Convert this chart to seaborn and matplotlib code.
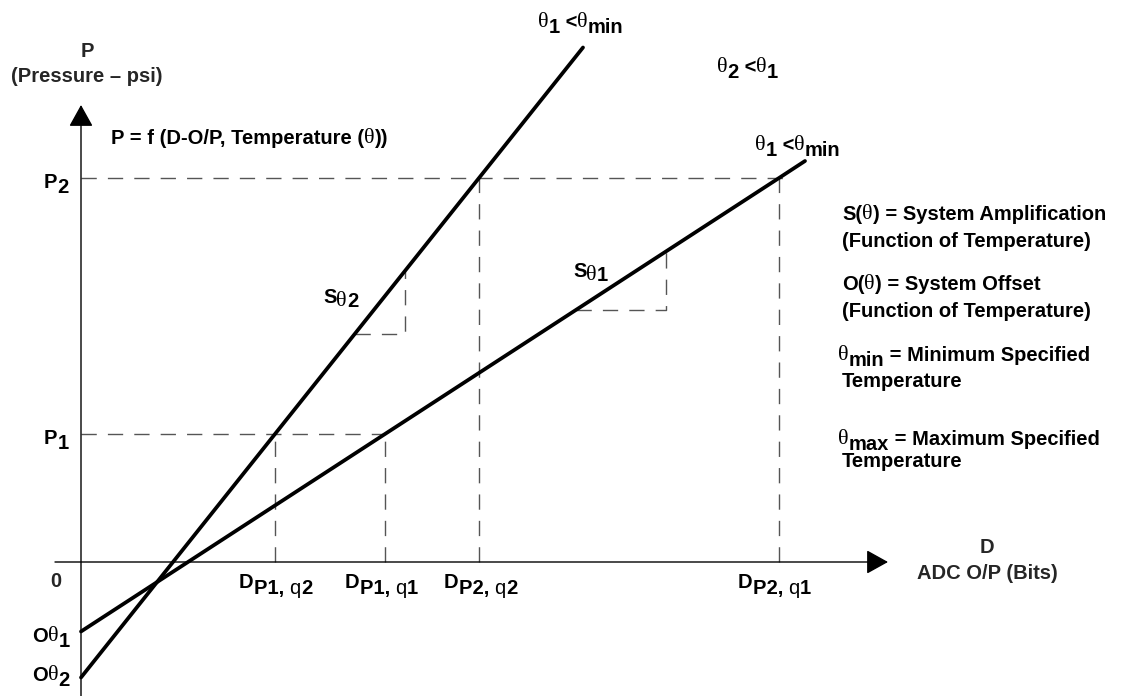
import matplotlib
matplotlib.use('Agg')
import matplotlib.pyplot as plt
import pandas as pd
import seaborn as sns

# Values (D = ADC output, P = pressure, arbitrary units)
P_LEVELS = [128, 384]                     # P1, P2
THETA1_D = [0, 304, 698, 724]             # line for theta1 (shallow)
THETA1_P = [-69.5, 128, 384, 401]
THETA2_D = [0, 194, 398, 502]             # line for theta2 (steep)
THETA2_P = [-115.5, 128, 384, 514.5]
# slope triangles
TRI1_D = [495, 585, 585]
TRI1_P = [252, 252, 311]
TRI2_D = [274, 324, 324]
TRI2_P = [228, 228, 291]

sns.set_style('white')
plt.rcParams['font.family'] = ['Liberation Sans', 'DejaVu Sans']

FS = 14.5
FONTS = {
    'b': dict(family='Liberation Sans', weight='bold', fontsize=FS),
    'r': dict(family='Liberation Sans', weight='normal', fontsize=FS),
    'g': dict(family='Liberation Serif', weight='normal', fontsize=FS + 1.5),
}
PX = 0.72  # pixel -> points at dpi 100


def rich(ax, x, y, parts):
    # parts: (text, drop in px below the base line, style)
    prev, prev_drop = None, 0
    for text, drop, style in parts:
        kw = dict(color='black', **FONTS[style])
        if prev is None:
            prev = ax.text(x, y, text, ha='left', va='baseline', **kw)
        else:
            prev = ax.annotate(text, xy=(1, 0), xycoords=prev,
                               xytext=(0, -(drop - prev_drop) * PX),
                               textcoords='offset points',
                               ha='left', va='bottom', **kw)
        prev_drop = drop


fig = plt.figure(figsize=(11.22, 6.96), dpi=100)
ax = fig.add_axes([0, 0, 1, 1])

# dashed guides
dash = dict(color='#555555', lw=1.0, ls=(0, (11, 8)))
p1, p2 = P_LEVELS
ax.plot([0, THETA1_D[1]], [p1, p1], **dash)
ax.plot([0, THETA1_D[2] + 4], [p2, p2], **dash)
for d, p in [(THETA2_D[1], p1), (THETA1_D[1], p1),
             (THETA2_D[2], p2), (THETA1_D[2], p2)]:
    ax.plot([d, d], [0, p], **dash)
ax.plot(TRI1_D, TRI1_P, **dash)
ax.plot(TRI2_D, TRI2_P, **dash)

# axes with arrows
arrow = dict(arrowstyle='-|>,head_length=0.9,head_width=0.5', color='black',
             lw=1.0, mutation_scale=15, shrinkA=0, shrinkB=0)
ax.annotate('', xy=(0, 457), xytext=(0, -134), arrowprops=arrow)
ax.annotate('', xy=(807, 0), xytext=(-26, 0), arrowprops=arrow)

# the two transfer lines
df = pd.concat([
    pd.DataFrame({'D': THETA1_D, 'P': THETA1_P, 'line': 'theta1'}),
    pd.DataFrame({'D': THETA2_D, 'P': THETA2_P, 'line': 'theta2'}),
])
sns.lineplot(data=df, x='D', y='P', units='line', estimator=None, sort=False,
             color='black', lw=2.7, ax=ax)
ax.set_xlim(-81, 1041)
ax.set_ylim(-134, 562)
ax.axis('off')

bold = FONTS['b']
# axis titles
ax.text(6, 505, 'P', ha='center', va='baseline', **bold)
ax.text(6, 480, '(Pressure \u2013 psi)', ha='center', va='baseline', **bold)
ax.text(906, 9, 'D', ha='center', va='baseline', **bold)
ax.text(906, -17, 'ADC O/P (Bits)', ha='center', va='baseline', **bold)
ax.text(-25, -25, '0', ha='center', va='baseline', **bold)

rich(ax, 30, 418, [('P = f (D-O/P, Temperature (', 0, 'b'), ('\u03b8', 0, 'g'),
                   ('))', 0, 'b')])

# line annotations
rich(ax, 457, 535, [('\u03b8', 0, 'g'), ('1', 5, 'b'), (' <', 0, 'b'),
                    ('\u03b8', 0, 'g'), ('min', 5, 'b')])
rich(ax, 636, 490, [('\u03b8', 0, 'g'), ('2', 5, 'b'), (' <', 0, 'b'),
                    ('\u03b8', 0, 'g'), ('1', 5, 'b')])
rich(ax, 674, 412, [('\u03b8', 0, 'g'), ('1', 5, 'b'), (' <', 0, 'b'),
                    ('\u03b8', 0, 'g'), ('min', 5, 'b')])
rich(ax, 242, 259, [('S', 0, 'b'), ('\u03b8', 4, 'g'), ('2', 4, 'b')])
rich(ax, 492, 285, [('S', 0, 'b'), ('\u03b8', 4, 'g'), ('1', 4, 'b')])

# y-axis labels
rich(ax, -37, 374, [('P', 0, 'b'), ('2', 5, 'b')])
rich(ax, -37, 118, [('P', 0, 'b'), ('1', 5, 'b')])
rich(ax, -49, -80, [('O', 0, 'b'), ('\u03b8', 0, 'g'), ('1', 5, 'b')])
rich(ax, -49, -119, [('O', 0, 'b'), ('\u03b8', 0, 'g'), ('2', 5, 'b')])

# x-axis labels
for left, sub, q, dg in [(158, 'P1, ', 'q', '2'), (264, 'P1, ', 'q', '1'),
                         (363, 'P2, ', 'q', '2'), (657, 'P2, ', 'q', '1')]:
    rich(ax, left, -26, [('D', 0, 'b'), (sub, 6, 'b'), (q, 6, 'r'), (dg, 6, 'b')])

# legend text on the right
rich(ax, 761, 342, [('S(', 0, 'b'), ('\u03b8', 0, 'g'),
                    (') = System Amplification', 0, 'b')])
rich(ax, 761, 315, [('(Function of Temperature)', 0, 'b')])
rich(ax, 761, 272, [('O(', 0, 'b'), ('\u03b8', 0, 'g'),
                    (') = System Offset', 0, 'b')])
rich(ax, 761, 245, [('(Function of Temperature)', 0, 'b')])
rich(ax, 757, 202, [('\u03b8', 0, 'g'), ('min', 5, 'b'),
                    (' = Minimum Specified', 0, 'b')])
rich(ax, 761, 175, [('Temperature', 0, 'b')])
rich(ax, 757, 118, [('\u03b8', 0, 'g'), ('max', 5, 'b'),
                    (' = Maximum Specified', 0, 'b')])
rich(ax, 761, 95, [('Temperature', 0, 'b')])

fig.savefig('out.png', dpi=100)
